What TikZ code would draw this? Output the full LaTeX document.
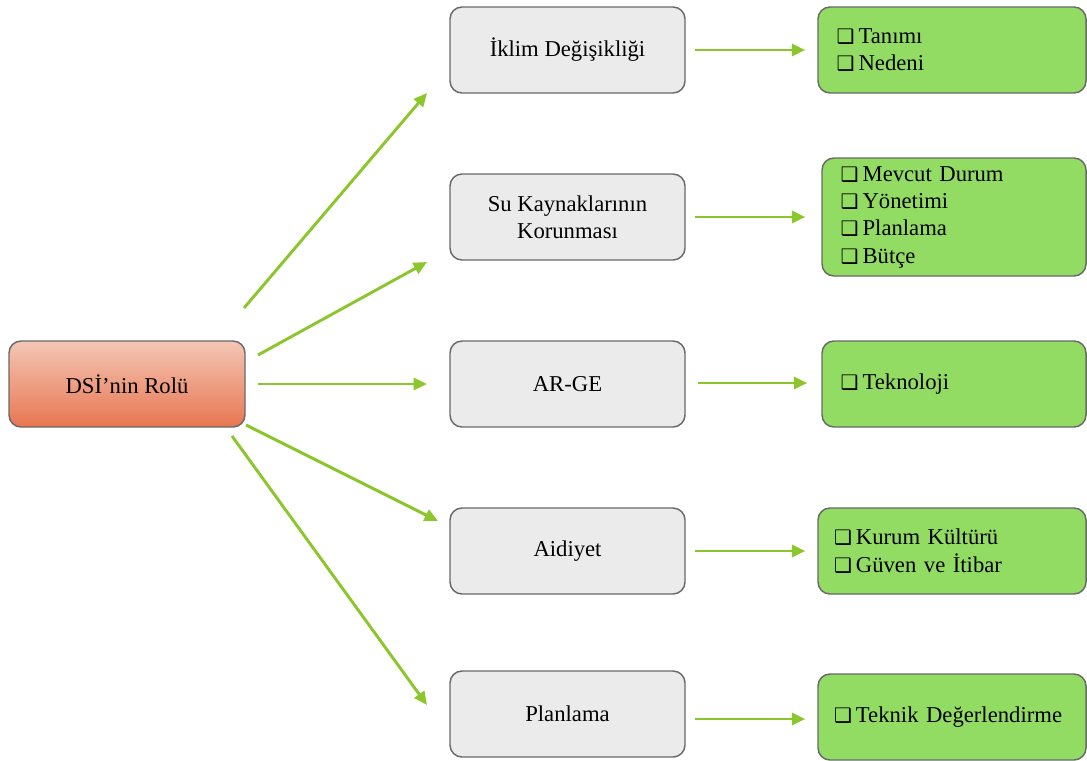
\documentclass[tikz,border=0pt]{standalone}
\usepackage{fontspec}
\setmainfont{Liberation Serif}
\newfontfamily\dejavu{DejaVu Sans}
\usetikzlibrary{arrows.meta}
\definecolor{gfill}{RGB}{235,235,235}
\definecolor{bord}{RGB}{105,105,105}
\definecolor{lgreen}{RGB}{146,220,100}
\definecolor{agreen}{RGB}{140,198,45}
\definecolor{redtop}{RGB}{244,198,182}
\definecolor{redbot}{RGB}{232,118,80}
\newcommand\cbx{{\dejavu\fontsize{15}{15}\selectfont ❑}\hspace{3pt}}
\tikzset{
  base/.style={draw=bord, line width=1.1pt, rounded corners=9pt, font=\fontsize{17}{20.5}\selectfont},
  redbox/.style={base, top color=redtop, bottom color=redbot, minimum width=177pt, minimum height=64.5pt, align=center},
  greybox/.style={base, fill=gfill, minimum width=176.25pt, minimum height=64.5pt, align=center},
  greenbox/.style={base, fill=lgreen, inner xsep=14pt, inner ysep=0pt, align=left, minimum height=64.5pt},
  link/.style={draw=agreen, line width=2.2pt, -{Triangle[length=10pt,width=9pt]}},
}
\begin{document}
\begin{tikzpicture}[x=0.75pt,y=-0.75pt]
\useasboundingbox (0,0) rectangle (1087,760);
\node[redbox] (dsi) at (127,384) {DSİ’nin Rolü};
\node[greybox] (g1) at (567.5,50) {İklim Değişikliği};
\node[greybox] (g2) at (567.5,217) {Su Kaynaklarının\\Korunması};
\node[greybox] (g3) at (567.5,384) {AR-GE};
\node[greybox] (g4) at (567.5,551) {Aidiyet};
\node[greybox] (g5) at (567.5,714) {Planlama};
\node[greenbox, text width=173pt] (r1) at (952,50) {\cbx Tanımı\\\cbx Nedeni};
\node[greenbox, text width=170pt, minimum height=88.5pt] (r2) at (954,217) {\cbx Mevcut Durum\\\cbx Yönetimi\\\cbx Planlama\\\cbx Bütçe};
\node[greenbox, text width=170pt] (r3) at (954,384) {\cbx Teknoloji};
\node[greenbox, text width=177pt, inner xsep=12pt] (r4) at (952,551) {\cbx Kurum Kültürü\\\cbx Güven ve İtibar};
\node[greenbox, text width=177pt, inner xsep=12pt] (r5) at (952,717) {\cbx Teknik Değerlendirme};
% left arrow endpoints
\coordinate (s1) at (244,308); \coordinate (e1) at (427,93);
\coordinate (s2) at (258,355); \coordinate (e2) at (427,262);
\coordinate (s3) at (258,384); \coordinate (e3) at (427,384);
\coordinate (s4) at (246,425); \coordinate (e4) at (438,521);
\coordinate (s5) at (232,436); \coordinate (e5) at (427,705);
\draw[link] (s1) -- (e1);
\draw[link] (s2) -- (e2);
\draw[link] (s3) -- (e3);
\draw[link] (s4) -- (e4);
\draw[link] (s5) -- (e5);
% right arrows
\draw[link] ([xshift=7pt]g1.east) -- ([xshift=-9pt]r1.west);
\draw[link] ([xshift=7pt]g2.east) -- ([xshift=-12pt]r2.west);
\draw[link] ([xshift=9.5pt,yshift=0.75pt]g3.east) -- ([xshift=-10.5pt,yshift=0.75pt]r3.west);
\draw[link] ([xshift=7pt]g4.east) -- ([xshift=-9pt]r4.west);
\draw[link] ([xshift=7pt,yshift=-3.75pt]g5.east) -- ([xshift=-9pt,yshift=-1.5pt]r5.west);
\end{tikzpicture}
\end{document}
